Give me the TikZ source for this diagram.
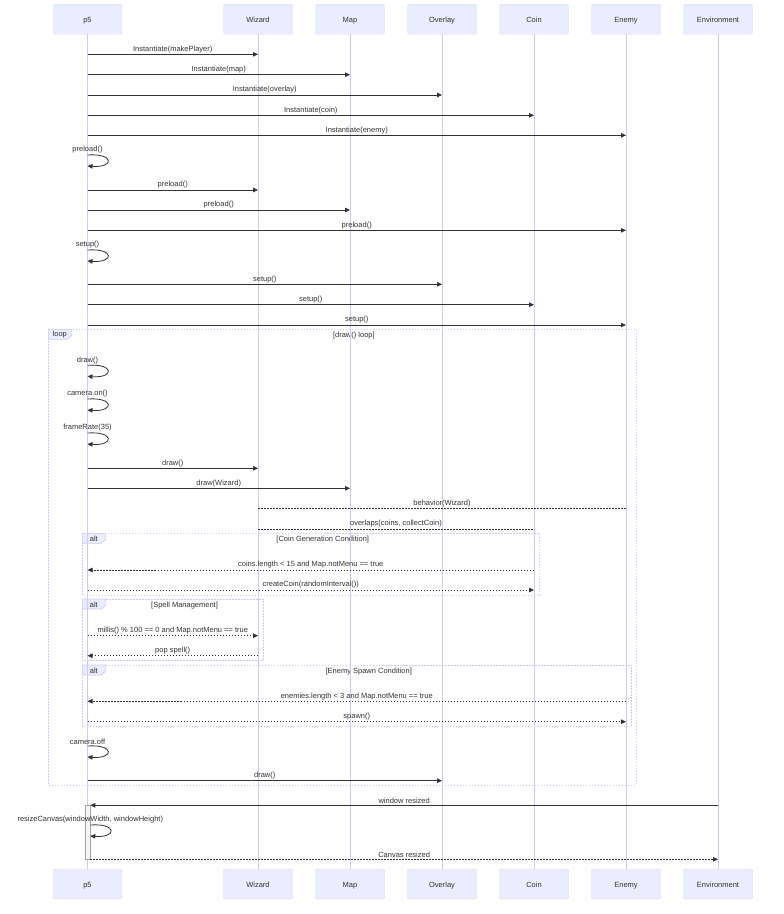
\documentclass[tikz,border=0pt]{standalone}
\usepackage{fontspec}
\setmainfont{Liberation Sans}
\usetikzlibrary{arrows.meta}
\definecolor{mytext}{RGB}{51,51,51}
\definecolor{myline}{RGB}{51,51,51}
\definecolor{myfill}{RGB}{236,236,255}
\definecolor{myedge}{RGB}{222,214,250}
\definecolor{mylife}{RGB}{212,202,250}
\definecolor{myframe}{RGB}{208,203,245}

\begin{document}
\begin{tikzpicture}[x=1pt, y=-1pt, >={Triangle[length=5pt,width=4.5pt]},
    every node/.style={font=\fontsize{7.5}{9}\selectfont, text=mytext},
    actor/.style={draw=myedge, fill=myfill, minimum width=69pt, minimum height=30pt,
        rounded corners=1.5pt, text height=7pt, text depth=0pt},
    lifeline/.style={mylife, line width=0.8pt},
    msg/.style={->, myline, line width=0.8pt},
    reply/.style={->, myline, line width=0.8pt, dash pattern=on 1.5pt off 1.5pt},
    dotline/.style={myline, line width=0.8pt, dash pattern=on 1.5pt off 1.5pt},
    lbl/.style={above=0.3pt, inner sep=1pt},
    frame/.style={myframe, line width=0.7pt, dash pattern=on 1.5pt off 1.5pt},
    tab/.style={fill=myfill, draw=myframe, line width=0.6pt}]

    \useasboundingbox (0,0) rectangle (784,914);

    % -- Frames: loop and the three alt blocks --
    \foreach \x/\y/\X/\Y/\k/\t in {48.3/329.3/636/785/loop/{[draw() loop]},
            82.3/533.3/539.7/595/alt/{[Coin Generation Condition]},
            82.3/599/263.3/660.3/alt/{[Spell Management]},
            82.3/665/631.7/726.7/alt/{[Enemy Spawn Condition]}}{
        \draw[frame] (\x,\y) rectangle (\X,\Y);
        \draw[tab] (\x,\y) -- ++(23.5,0) -- ++(0,6) -- ++(-4.5,4) -- (\x,\y+10) -- cycle;
        \node[inner sep=0] at (\x+11.5,\y+5.5) {\k};
        \node[inner sep=0] at ({(\x+23.5+\X)/2},\y+6.5) {\t};
    }

    % -- Actors: top and bottom rows, lifelines between --
    \foreach \name/\x/\txt in {p5/87.5/p5, wizard/258/Wizard, map/350/Map,
            overlay/442/Overlay, coin/534/Coin, enemy/626/Enemy, env/718/Environment}{
        \node[actor] (\name) at (\x,19.2) {\txt};
        \node[actor] (\name bot) at (\x,884) {\txt};
        \draw[lifeline] (\name.south) -- (\name bot.north);
    }

    % -- Solid calls from p5 --
    \foreach \a/\b/\y/\t in {p5/wizard/54.3/Instantiate(makePlayer),
            p5/map/74.7/Instantiate(map),
            p5/overlay/95/Instantiate(overlay),
            p5/coin/115.3/Instantiate(coin),
            p5/enemy/135.3/Instantiate(enemy),
            p5/wizard/190/preload(),
            p5/map/210/preload(),
            p5/enemy/230.3/preload(),
            p5/overlay/284.3/setup(),
            p5/coin/304.7/setup(),
            p5/enemy/325/setup(),
            p5/wizard/468.3/draw(),
            p5/map/488.3/draw(Wizard),
            p5/overlay/780.7/draw()}
        \draw[msg] (\a |- 0,\y) -- (\b |- 0,\y) node[midway,lbl] {\t};

    % -- Self calls on p5 --
    \foreach \y/\t in {155/preload(), 250/setup(), 365.3/draw(),
            399/camera.on(), 433/frameRate(35), 746/camera.off}{
        \draw[msg] (p5 |- 0,\y) .. controls +(27,-2) and +(27,2) .. (p5 |- 0,\y+11);
        \node[lbl] at (p5 |- 0,\y) {\t};
    }

    % -- Dotted replies --
    \draw[dotline] (wizard |- 0,508.7) -- (enemy |- 0,508.7)
        node[midway,lbl] {behavior(Wizard)};
    \draw[dotline] (wizard |- 0,529) -- (coin |- 0,529)
        node[midway,lbl] {overlaps(coins, collectCoin)};
    \foreach \a/\b/\y/\t in {coin/p5/570/coins.length < 15 and Map.notMenu == true,
            p5/coin/590/createCoin(randomInterval()),
            p5/wizard/635.7/millis() \% 100 == 0 and Map.notMenu == true,
            wizard/p5/655.7/pop spell(),
            enemy/p5/701.3/enemies.length < 3 and Map.notMenu == true,
            p5/enemy/721.7/spawn()}
        \draw[reply] (\a |- 0,\y) -- (\b |- 0,\y) node[midway,lbl] {\t};

    % -- Window resize: activation on p5 --
    \node[draw=gray!70, fill=gray!8, line width=0.6pt, minimum width=5pt,
        minimum height=54.3pt, inner sep=0pt, anchor=north] (act) at (87.5,805) {};
    \draw[msg] (env |- 0,805.3) -- (act.east |- 0,805.3)
        node[midway,lbl] {window resized};
    \draw[msg] (act.east |- 0,825) .. controls +(27,-2) and +(27,2) .. (act.east |- 0,836);
    \node[lbl] at (act.east |- 0,825) {resizeCanvas(windowWidth, windowHeight)};
    \draw[reply] (act.east |- 0,859.3) -- (env |- 0,859.3)
        node[midway,lbl] {Canvas resized};

\end{tikzpicture}
\end{document}
